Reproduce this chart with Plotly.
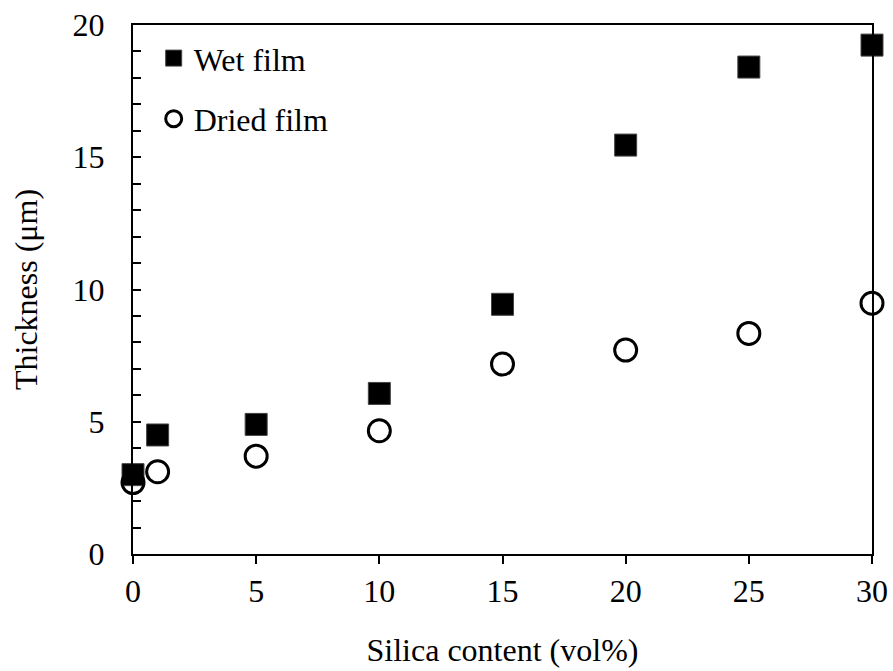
import plotly.graph_objects as go

silica = [0, 1, 5, 10, 15, 20, 25, 30]
wet_film = [3.0, 4.5, 4.9, 6.07, 9.44, 15.46, 18.41, 19.24]
dried_film = [2.70, 3.11, 3.70, 4.66, 7.18, 7.71, 8.34, 9.48]

FONT = "Liberation Serif, Times New Roman, serif"
FS = 32

fig = go.Figure()
fig.add_trace(go.Scatter(
    x=silica, y=wet_film, mode="markers", name="Wet film", legendgroup="a",
    marker=dict(symbol="square", size=22, color="black", line=dict(width=1, color="#444")),
    cliponaxis=False,
))
fig.add_trace(go.Scatter(
    x=silica, y=dried_film, mode="markers", name="Dried film", legendgroup="b",
    marker=dict(symbol="circle-open", size=22, color="black", line=dict(width=3, color="black")),
    cliponaxis=False,
))

fig.update_layout(
    width=893, height=671,
    margin=dict(l=133, r=21, t=25, b=117),
    paper_bgcolor="white", plot_bgcolor="white",
    font=dict(family=FONT, size=FS, color="black"),
    showlegend=True,
    legend=dict(x=0.028, y=0.989, xanchor="left", yanchor="top",
                bgcolor="rgba(0,0,0,0)", tracegroupgap=16,
                traceorder="grouped", itemwidth=30,
                font=dict(family=FONT, size=FS, color="black")),
    xaxis=dict(
        range=[0, 30], tickvals=[0, 5, 10, 15, 20, 25, 30],
        ticks="outside", ticklen=8, tickwidth=2, tickcolor="black",
        showline=True, linewidth=2, linecolor="black", mirror=True,
        showgrid=False, zeroline=False, automargin=False,
        title=dict(text="Silica content (vol%)", standoff=30,
                   font=dict(family=FONT, size=FS)),
        tickfont=dict(family=FONT, size=FS),
    ),
    yaxis=dict(
        range=[0, 20], tickvals=[0, 5, 10, 15, 20],
        ticks="inside", ticklen=8, tickwidth=2, tickcolor="black",
        minor=dict(dtick=1, ticks="inside", ticklen=8, tickwidth=2, tickcolor="black"),
        showline=True, linewidth=2, linecolor="black", mirror=True,
        showgrid=False, zeroline=False, ticklabelstandoff=20, automargin=False,
        title=dict(text="Thickness (μm)", standoff=25,
                   font=dict(family=FONT, size=FS)),
        tickfont=dict(family=FONT, size=FS),
    ),
)

fig.write_html("out.html")
